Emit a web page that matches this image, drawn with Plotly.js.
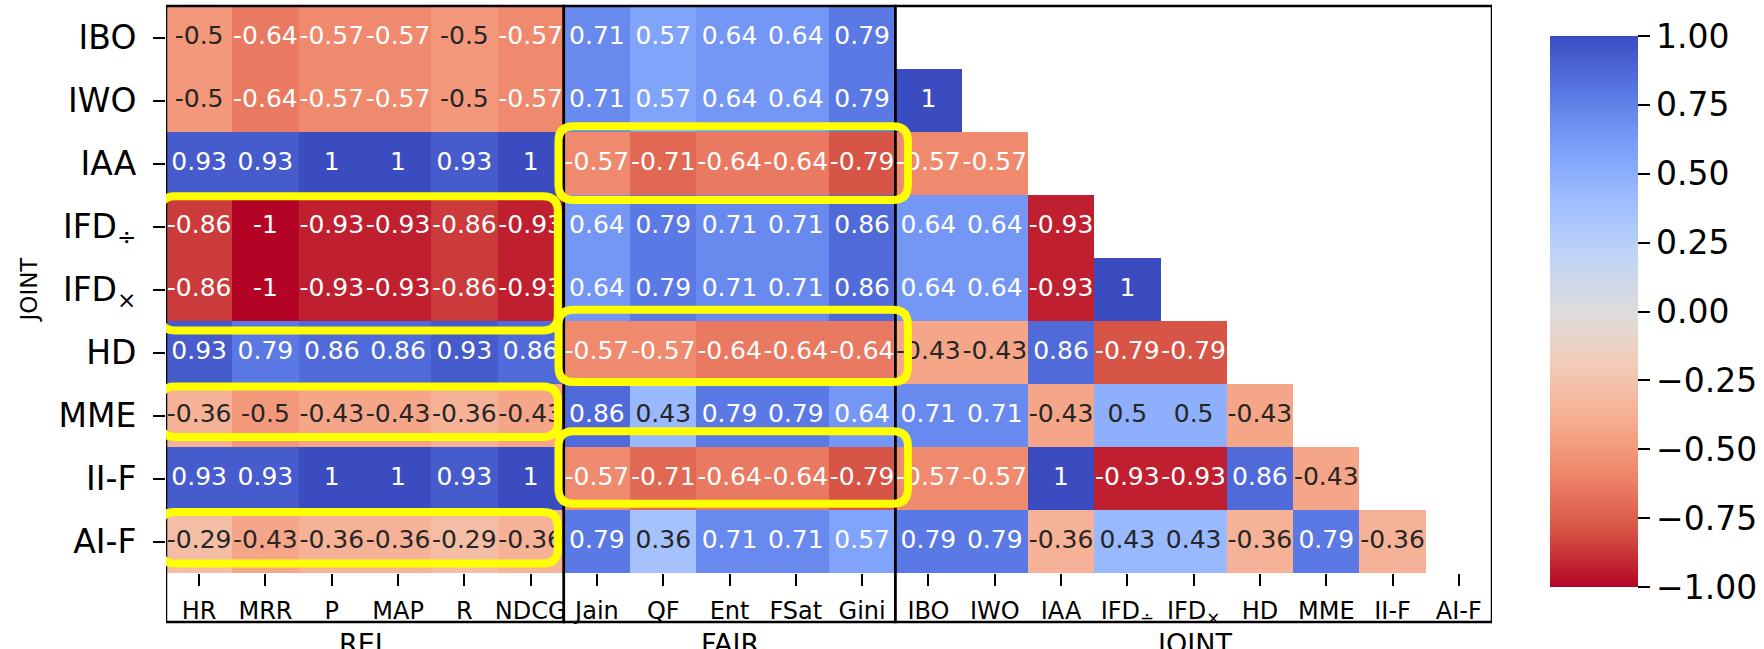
<!DOCTYPE html>
<html>
<head>
<meta charset="utf-8">
<script src="https://cdn.plot.ly/plotly-3.0.1.min.js"></script>
<style>html,body{margin:0;padding:0;background:#fff;}#chart{width:1764px;height:649px;}</style>
</head>
<body>
<div id="chart"></div>
<script>
// ---- data ----
const rowLabels = ['IBO','IWO','IAA','IFD<sub>÷</sub>','IFD<sub>×</sub>','HD','MME','II-F','AI-F'];
const relLabels = ['HR','MRR','P','MAP','R','NDCG'];
const fairLabels = ['Jain','QF','Ent','FSat','Gini'];
const jointLabels = ['IBO','IWO','IAA','IFD<sub>÷</sub>','IFD<sub>×</sub>','HD','MME','II-F','AI-F'];
const groupNames = ['REL','FAIR','JOINT'];

const relValues = [
  [-0.5,-0.64,-0.57,-0.57,-0.5,-0.57],
  [-0.5,-0.64,-0.57,-0.57,-0.5,-0.57],
  [0.93,0.93,1,1,0.93,1],
  [-0.86,-1,-0.93,-0.93,-0.86,-0.93],
  [-0.86,-1,-0.93,-0.93,-0.86,-0.93],
  [0.93,0.79,0.86,0.86,0.93,0.86],
  [-0.36,-0.5,-0.43,-0.43,-0.36,-0.43],
  [0.93,0.93,1,1,0.93,1],
  [-0.29,-0.43,-0.36,-0.36,-0.29,-0.36]
];
const fairValues = [
  [0.71,0.57,0.64,0.64,0.79],
  [0.71,0.57,0.64,0.64,0.79],
  [-0.57,-0.71,-0.64,-0.64,-0.79],
  [0.64,0.79,0.71,0.71,0.86],
  [0.64,0.79,0.71,0.71,0.86],
  [-0.57,-0.57,-0.64,-0.64,-0.64],
  [0.86,0.43,0.79,0.79,0.64],
  [-0.57,-0.71,-0.64,-0.64,-0.79],
  [0.79,0.36,0.71,0.71,0.57]
];
const jointValues = [
  [],
  [1],
  [-0.57,-0.57],
  [0.64,0.64,-0.93],
  [0.64,0.64,-0.93,1],
  [-0.43,-0.43,0.86,-0.79,-0.79],
  [0.71,0.71,-0.43,0.5,0.5,-0.43],
  [-0.57,-0.57,1,-0.93,-0.93,0.86,-0.43],
  [0.79,0.79,-0.36,0.43,0.43,-0.36,0.79,-0.36]
];

// ---- build grid ----
const colLabels = relLabels.concat(fairLabels, jointLabels);
const nCols = colLabels.length, nRows = rowLabels.length;
const z = [];
for (let i = 0; i < nRows; i++) {
  const joint = [];
  for (let j = 0; j < jointLabels.length; j++) joint.push(j < jointValues[i].length ? jointValues[i][j] : null);
  z.push(relValues[i].concat(fairValues[i], joint));
}
const tx = [], ty = [], tt = [], tc = [];
for (let i = 0; i < nRows; i++) for (let j = 0; j < nCols; j++) {
  const v = z[i][j];
  if (v === null) continue;
  tx.push(j); ty.push(i); tt.push(String(v));
  tc.push(Math.abs(v) >= 0.55 ? '#ffffff' : '#262626');
}

const coolwarm = ['#3b4cc0','#5977e3','#7b9ff9','#9ebeff','#c0d4f5','#dddcdc','#f2cbb7','#f7ac8e','#ee8468','#d65244','#b40426'];
const colorscale = coolwarm.slice().reverse().map((c, k) => [k / (coolwarm.length - 1), c]);

const FONT = 'DejaVu Sans, sans-serif';

// ---- geometry helpers (pixels -> data) ----
const L = 166, T = 6, W = 1326, H = 567;
const colPx = W / nCols, rowPx = H / nRows;
const bottomPaper = px => -px / H;

function roundRect(x0, y0, x1, y1, rpx) {
  const rx = rpx / colPx, ry = rpx / rowPx;
  return `M${x0+rx},${y0} L${x1-rx},${y0} Q${x1},${y0} ${x1},${y0+ry} L${x1},${y1-ry} Q${x1},${y1} ${x1-rx},${y1} ` +
         `L${x0+rx},${y1} Q${x0},${y1} ${x0},${y1-ry} L${x0},${y0+ry} Q${x0},${y0} ${x0+rx},${y0} Z`;
}

const groupBounds = [[-0.5, relLabels.length - 0.5],
  [relLabels.length - 0.5, relLabels.length + fairLabels.length - 0.5],
  [relLabels.length + fairLabels.length - 0.5, nCols - 0.5]];

const shapes = [];
groupBounds.forEach(b => shapes.push({
  type: 'rect', xref: 'x', yref: 'paper', x0: b[0], x1: b[1], y0: bottomPaper(49), y1: 1,
  line: {color: '#000', width: 2.5}, fillcolor: 'rgba(0,0,0,0)', layer: 'above'
}));
const highlights = [
  [5.42, 1.41, 10.69, 2.58],
  [-0.59, 2.52, 5.41, 4.65],
  [5.42, 4.32, 10.69, 5.47],
  [-0.59, 5.54, 5.41, 6.34],
  [5.42, 6.25, 10.69, 7.40],
  [-0.59, 7.53, 5.41, 8.35]
];
highlights.forEach(h => shapes.push({
  type: 'path', xref: 'x', yref: 'y', path: roundRect(h[0], h[1], h[2], h[3], 15),
  line: {color: '#ffff00', width: 8}, fillcolor: 'rgba(0,0,0,0)', layer: 'above'
}));

const annotations = groupNames.map((g, k) => ({
  text: g, xref: 'x', yref: 'paper', x: (groupBounds[k][0] + groupBounds[k][1]) / 2, y: bottomPaper(70),
  yanchor: 'middle', xanchor: 'center', showarrow: false, font: {family: FONT, size: 27, color: '#000'}
}));
annotations.push({
  text: 'JOINT', xref: 'paper', yref: 'paper', x: (28 - L) / W, y: 0.5, textangle: -90,
  xanchor: 'center', yanchor: 'middle', showarrow: false, font: {family: FONT, size: 23, color: '#000'}
});

const heat = {
  type: 'heatmap', z: z, x: colLabels.map((_, j) => j), y: rowLabels.map((_, i) => i),
  zmin: -1, zmax: 1, colorscale: colorscale, hoverinfo: 'skip', xgap: 0, ygap: 0,
  colorbar: {
    x: (1550 - L) / W, xanchor: 'left', y: 1 - ((36 + 587) / 2 - T) / H, yanchor: 'middle',
    thickness: 88, thicknessmode: 'pixels', len: 551, lenmode: 'pixels',
    outlinewidth: 0, xpad: 0, ypad: 0,
    tickvals: [-1, -0.75, -0.5, -0.25, 0, 0.25, 0.5, 0.75, 1], tickformat: '.2f',
    ticks: 'outside', ticklen: 12, tickwidth: 2, tickcolor: '#000',
    tickfont: {family: FONT, size: 33, color: '#000'}
  }
};
const cellText = {
  type: 'scatter', mode: 'text', x: tx, y: ty, text: tt, textposition: 'middle center',
  textfont: {family: FONT, size: 25, color: tc}, hoverinfo: 'skip', showlegend: false, cliponaxis: false
};

const layout = {
  width: 1764, height: 649,
  margin: {l: L, r: 1764 - L - W, t: T, b: 649 - T - H, autoexpand: false},
  paper_bgcolor: '#fff', plot_bgcolor: '#fff', showlegend: false,
  xaxis: {
    range: [-0.5, nCols - 0.5], tickvals: colLabels.map((_, j) => j), ticktext: colLabels,
    ticks: 'outside', ticklen: 12, tickwidth: 2, tickcolor: '#000', showgrid: false, zeroline: false,
    showline: false, tickfont: {family: FONT, size: 24, color: '#000'}, ticklabelstandoff: 4, fixedrange: true
  },
  yaxis: {
    range: [nRows - 0.5, -0.5], tickvals: rowLabels.map((_, i) => i), ticktext: rowLabels,
    ticks: 'outside', ticklen: 12, tickwidth: 2, tickcolor: '#000', showgrid: false, zeroline: false,
    showline: false, tickfont: {family: FONT, size: 33, color: '#000'}, ticklabelstandoff: 10, fixedrange: true
  },
  shapes: shapes, annotations: annotations
};

Plotly.newPlot('chart', [heat, cellText], layout, {displayModeBar: false, staticPlot: true});
</script>
</body>
</html>
